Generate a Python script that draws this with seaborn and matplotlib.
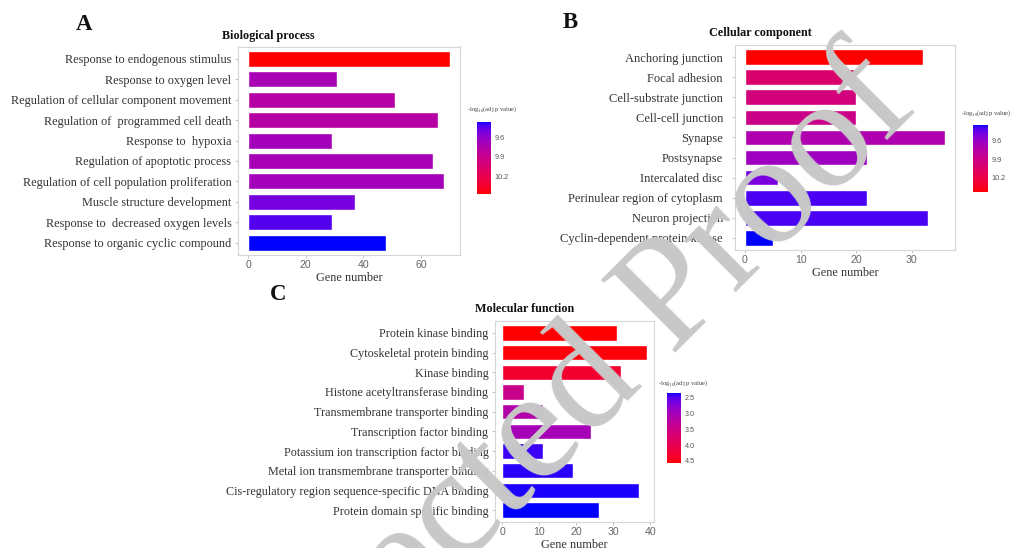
import numpy as np
import pandas as pd
import matplotlib
matplotlib.use("Agg")
import matplotlib.pyplot as plt
import seaborn as sns
from matplotlib.colors import ListedColormap, Normalize
from matplotlib.cm import ScalarMappable

# ---------------- data ----------------
bp_terms = [
    "Response to endogenous stimulus",
    "Response to oxygen level",
    "Regulation of cellular component movement",
    "Regulation of  programmed cell death",
    "Response to  hypoxia",
    "Regulation of apoptotic process",
    "Regulation of cell population proliferation",
    "Muscle structure development",
    "Response to  decreased oxygen levels",
    "Response to organic cyclic compound",
]
bp_counts = [70, 31, 51, 66, 29, 64, 68, 37, 29, 48]
bp_logp = [10.47, 9.71, 9.78, 9.79, 9.69, 9.71, 9.69, 9.52, 9.44, 9.37]
bp_xticks = [0, 20, 40, 60]
bp_cticks = [9.6, 9.9, 10.2]

cc_terms = [
    "Anchoring junction",
    "Focal adhesion",
    "Cell-substrate junction",
    "Cell-cell junction",
    "Synapse",
    "Postsynapse",
    "Intercalated disc",
    "Perinulear region of cytoplasm",
    "Neuron projection",
    "Cyclin-dependent protein kinase",
]
cc_counts = [32, 20, 20, 20, 36, 22, 6, 22, 33, 5]
cc_logp = [10.43, 10.02, 9.95, 9.885, 9.71, 9.63, 9.49, 9.395, 9.395, 9.34]
cc_xticks = [0, 10, 20, 30]
cc_cticks = [9.6, 9.9, 10.2]

mf_terms = [
    "Protein kinase binding",
    "Cytoskeletal protein binding",
    "Kinase binding",
    "Histone acetyltransferase binding",
    "Transmembrane transporter binding",
    "Transcription factor binding",
    "Potassium ion transcription factor binding",
    "Metal ion transmembrane transporter binding",
    "Cis-regulatory region sequence-specific DNA binding",
    "Protein domain specific binding",
]
mf_counts = [31, 39, 32, 6, 11, 24, 11, 19, 37, 26]
mf_logp = [4.57, 4.53, 4.30, 3.46, 3.15, 3.02, 2.42, 2.39, 2.37, 2.35]
mf_xticks = [0, 10, 20, 30, 40]
mf_cticks = [2.5, 3.0, 3.5, 4.0, 4.5]

panel_titles = ["Biological process", "Cellular component", "Molecular function"]
panel_letters = ["A", "B", "C"]
xlabel_text = "Gene number"
legend_title = r"-log$_{\mathregular{10}}$(adj.p value)"
watermark = "Corrected Proof"

# ---------------- style ----------------
sns.set_style("white")
plt.rcParams["font.family"] = ["Liberation Serif", "DejaVu Serif"]
plt.rcParams["mathtext.fontset"] = "custom"
plt.rcParams["mathtext.rm"] = "Liberation Serif"

W, H = 1018, 548
fig = plt.figure(figsize=(W / 100, H / 100), dpi=100)


def px_rect(l, t, r, b):
    return [l / W, 1 - b / H, (r - l) / W, (b - t) / H]


# ggplot-like Lab gradient from blue (low) to red (high)
def _to_lab(rgb):
    c = np.array(rgb, float)
    c = np.where(c <= 0.04045, c / 12.92, ((c + 0.055) / 1.055) ** 2.4)
    M = np.array([[0.4124, 0.3576, 0.1805], [0.2126, 0.7152, 0.0722], [0.0193, 0.1192, 0.9505]])
    xyz = M @ c / np.array([0.95047, 1.0, 1.08883])
    f = np.where(xyz > 0.008856, np.cbrt(xyz), 7.787 * xyz + 16 / 116)
    return np.array([116 * f[1] - 16, 500 * (f[0] - f[1]), 200 * (f[1] - f[2])])


def _from_lab(lab):
    L, a, b = lab
    fy = (L + 16) / 116
    f = np.array([fy + a / 500, fy, fy - b / 200])
    xyz = np.where(f ** 3 > 0.008856, f ** 3, (f - 16 / 116) / 7.787) * np.array([0.95047, 1.0, 1.08883])
    Minv = np.array([[3.2406, -1.5372, -0.4986], [-0.9689, 1.8758, 0.0415], [0.0557, -0.2040, 1.0570]])
    c = np.clip(Minv @ xyz, 0, 1)
    c = np.where(c <= 0.0031308, 12.92 * c, 1.055 * c ** (1 / 2.4) - 0.055)
    return np.clip(c, 0, 1)


lab_blue, lab_red = _to_lab([0, 0, 1]), _to_lab([1, 0, 0])
cmap = ListedColormap([_from_lab(lab_blue * (1 - t) + lab_red * t) for t in np.linspace(0, 1, 256)])

panels = [
    dict(terms=bp_terms, counts=bp_counts, logp=bp_logp, xt=bp_xticks, ct=bp_cticks,
         ax=(238, 46.5, 460, 255), cb=(477, 122, 491, 194), title=(268, 35.5), letter=(84, 25),
         lt=(467, 109.5), fs=8.85, pad=2.5),
    dict(terms=cc_terms, counts=cc_counts, logp=cc_logp, xt=cc_xticks, ct=cc_cticks,
         ax=(735, 45, 955, 250), cb=(973, 125, 988, 192), title=(760, 33), letter=(570, 23),
         lt=(961, 113), fs=9.0, pad=6.5),
    dict(terms=mf_terms, counts=mf_counts, logp=mf_logp, xt=mf_xticks, ct=mf_cticks,
         ax=(495, 321, 654, 522), cb=(667, 393, 681, 463), title=(525, 309), letter=(278, 294),
         lt=(658, 383), fs=8.7, pad=2.5),
]

for i, p in enumerate(panels):
    ax = fig.add_axes(px_rect(*p["ax"]))
    norm = Normalize(vmin=min(p["logp"]), vmax=max(p["logp"]))
    pal = {t: cmap(norm(v)) for t, v in zip(p["terms"], p["logp"])}
    df = pd.DataFrame({"term": p["terms"], "count": p["counts"]})
    sns.barplot(data=df, x="count", y="term", hue="term", palette=pal, dodge=False,
                legend=False, width=0.78, orient="h", ax=ax, saturation=1)
    n = len(p["terms"])
    mx = max(p["counts"])
    ax.set_xlim(-0.05 * mx, 1.05 * mx)
    ax.set_ylim(n - 1 + 0.6, -0.6)
    ax.set_xticks(p["xt"])
    ax.set_xticklabels([str(v) for v in p["xt"]], family=["Liberation Sans", "DejaVu Sans"],
                       fontsize=7.6, color="#666666")
    ax.tick_params(axis="y", labelsize=p["fs"], labelcolor="#333333", length=2.2, width=0.6,
                   color="#bbbbbb", pad=p["pad"], left=True)
    ax.tick_params(axis="x", length=2.2, width=0.6, color="#bbbbbb", pad=1.5, bottom=True)
    ax.set_ylabel("")
    ax.set_xlabel(xlabel_text, fontsize=8.8, color="#333333", labelpad=1)
    for s in ax.spines.values():
        s.set_color("#d6d6d6")
        s.set_linewidth(0.8)
    ax.grid(False)

    # titles & letters
    fig.text(p["title"][0] / W, 1 - p["title"][1] / H, panel_titles[i], ha="center", va="center",
             fontsize=8.7, fontweight="bold", color="#111111")
    fig.text(p["letter"][0] / W, 1 - p["letter"][1] / H, panel_letters[i], ha="center", va="center",
             fontsize=16.5, fontweight="bold", color="#111111")

    # colorbar legend
    l, t, r, b = p["cb"]
    cax = fig.add_axes(px_rect(l, t, r, b))
    sm = ScalarMappable(norm=norm, cmap=cmap)
    cbar = fig.colorbar(sm, cax=cax)
    cbar.outline.set_visible(False)
    cbar.set_ticks(p["ct"])
    cbar.set_ticklabels(["{:.1f}".format(v) for v in p["ct"]])
    cax.invert_yaxis()
    cax.tick_params(axis="y", length=2, width=0.6, color="white", direction="in",
                    labelsize=5.2, labelcolor="#555555", pad=2.5)
    for tl in cax.get_yticklabels():
        tl.set_family(["Liberation Sans", "DejaVu Sans"])
    fig.text(p["lt"][0] / W, 1 - p["lt"][1] / H, legend_title, ha="left", va="center",
             fontsize=4.8, color="#444444")

# watermark
fig.text(562 / W, 1 - 467 / H, watermark, rotation=45, rotation_mode="anchor",
         ha="center", va="baseline", fontsize=114, color="#c8c8c8",
         family=["Liberation Serif"], zorder=10)

fig.savefig("out.png", dpi=100)
